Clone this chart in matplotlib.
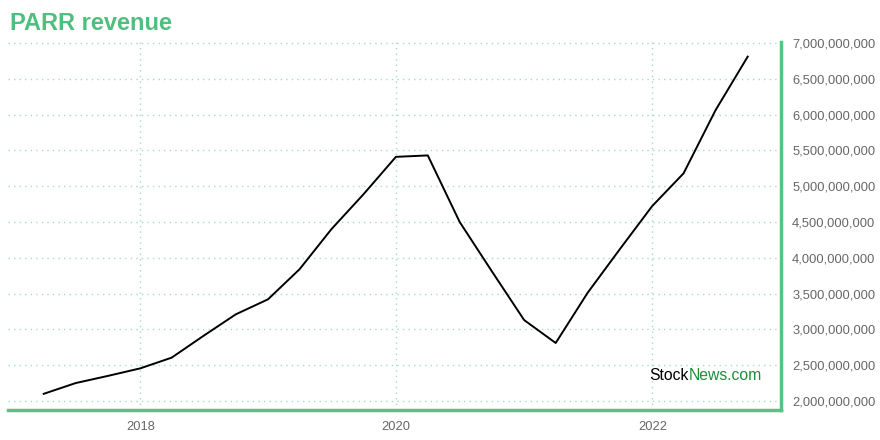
import matplotlib
matplotlib.use("Agg")
import matplotlib.pyplot as plt
import matplotlib.dates as mdates
import matplotlib.ticker as mticker
import pandas as pd

dates = ["2017-03-31", "2017-06-30", "2017-09-30", "2017-12-31",
         "2018-03-31", "2018-06-30", "2018-09-30", "2018-12-31",
         "2019-03-31", "2019-06-30", "2019-09-30", "2019-12-31",
         "2020-03-31", "2020-06-30", "2020-09-30", "2020-12-31",
         "2021-03-31", "2021-06-30", "2021-09-30", "2021-12-31",
         "2022-03-31", "2022-06-30", "2022-09-30"]
revenue = [2.10e9, 2.25e9, 2.35e9, 2.455e9,
           2.605e9, 2.91e9, 3.21e9, 3.42e9,
           3.84e9, 4.40e9, 4.89e9, 5.41e9,
           5.43e9, 4.50e9, 3.81e9, 3.13e9,
           2.81e9, 3.51e9, 4.12e9, 4.72e9,
           5.18e9, 6.06e9, 6.81e9]
y_ticks = [2e9, 2.5e9, 3e9, 3.5e9, 4e9, 4.5e9, 5e9, 5.5e9, 6e9, 6.5e9, 7e9]
x_ticks = ["2018-01-01", "2020-01-01", "2022-01-01"]
title = "PARR revenue"

plt.rcParams['font.family'] = ['Liberation Sans', 'DejaVu Sans']

GREEN = "#5cc184"
GRID = "#a6dcbc"

fig = plt.figure(figsize=(8.8, 4.4), dpi=100)
ax = fig.add_axes([0.0091, 0.0682, 0.8784, 0.8363])

x = pd.to_datetime(dates)
ax.plot(x, revenue, color="black", linewidth=1.4)

ax.set_xlim(pd.Timestamp("2016-12-19"), pd.Timestamp("2023-01-03"))
ax.set_ylim(1.874e9, 7.014e9)

ax.yaxis.tick_right()
ax.set_yticks(y_ticks)
ax.yaxis.set_major_formatter(mticker.FuncFormatter(lambda v, p: f"{int(round(v)):,}"))
ax.set_xticks(pd.to_datetime(x_ticks))
ax.xaxis.set_major_formatter(mdates.DateFormatter("%Y"))

ax.tick_params(axis="both", length=0, labelsize=9.3, labelcolor="#666666")
ax.tick_params(axis="y", pad=8)
ax.tick_params(axis="x", pad=8)

ax.grid(True, color=GRID, linestyle=(0, (1, 3)), linewidth=1)

for s in ["top", "left"]:
    ax.spines[s].set_visible(False)
for s in ["bottom", "right"]:
    ax.spines[s].set_color(GREEN)
    ax.spines[s].set_linewidth(2.5)

fig.text(0.011, 0.946, title, fontsize=17, fontweight="bold", color="#4fbf7d",
         ha="left", va="center")

wy = 0.095
t1 = ax.text(0.830, wy, "Stock", transform=ax.transAxes, fontsize=11.3,
             color="black", ha="left", va="center")
fig.canvas.draw()
bb = t1.get_window_extent()
inv = ax.transAxes.inverted()
x_end = inv.transform((bb.x1, bb.y0))[0]
ax.text(x_end, wy, "News.com", transform=ax.transAxes, fontsize=11.3,
        color="#1e8c3a", ha="left", va="center")

fig.savefig("out.png", dpi=100)
